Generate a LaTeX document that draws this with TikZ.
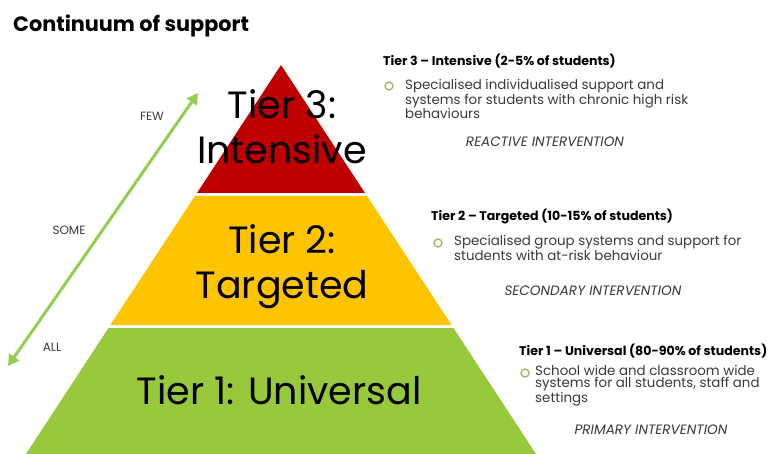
\documentclass[tikz,border=0pt]{standalone}
\usepackage{fontspec}
\setmainfont{Poppins}
\usetikzlibrary{arrows.meta}
\definecolor{tred}{HTML}{BE0000}
\definecolor{tyel}{HTML}{FFC400}
\definecolor{tgrn}{HTML}{98C83C}
\definecolor{arrg}{HTML}{92CF4E}
\definecolor{bodyg}{HTML}{3A3A3A}
\definecolor{bulg}{HTML}{9DB86A}
\tikzset{
  band/.style={draw=none},
  tierlbl/.style={inner sep=0pt, text=black, font=\fontsize{38}{38}\selectfont, align=center},
  side/.style={inner sep=0pt, text=bodyg, font=\fontsize{12}{12}\selectfont},
  head/.style={inner sep=0pt, anchor=west, text=black, font=\bfseries\fontsize{12.6}{13}\selectfont},
  body/.style={inner sep=0pt, anchor=north west, text=bodyg, align=left, font=\fontsize{13.4}{12.6}\selectfont},
  interv/.style={inner sep=0pt, text=bodyg, font=\itshape\fontsize{13.6}{13}\selectfont},
  bul/.style={circle, draw=bulg, line width=1.4pt, minimum size=8pt, inner sep=0pt}
}
\begin{document}
\begin{tikzpicture}[x=1pt,y=-1pt]
\useasboundingbox (0,0) rectangle (773,454);
\fill[white] (0,0) rectangle (773,454);
\begin{scope}
\clip (0,0) rectangle (773,454);
% pyramid bands
\fill[tred] (281,65) -- (365,193) -- (197,193) -- cycle;
\fill[tyel] (367,196) -- (451.6,325) -- (110.4,325) -- (195,196) -- cycle;
\fill[tgrn] (453.5,328) -- (536,454) -- (26,454) -- (108.5,328) -- cycle;
\end{scope}
% title
\node[inner sep=0pt, anchor=west, font=\bfseries\fontsize{20.8}{22}\selectfont] (title) at (13,26) {Continuum of support};
% arrow
\coordinate (lo) at (8,366);
\coordinate (hi) at (198,93);
\draw[arrg, line width=3pt, {Triangle[length=11pt,width=12pt]}-{Triangle[length=11pt,width=12pt]}] (lo) -- (hi);
\node[side] (few) at (152,116) {FEW};
\node[side] (some) at (69,230) {SOME};
\node[side] (all) at (52,347) {ALL};
% tier labels
\node[tierlbl] (t3) at (282,127) {Tier 3:\\[7pt]Intensive};
\node[tierlbl] (t2) at (282,267) {Tier 2:\\[7pt]Targeted};
\node[tierlbl] (t1) at (279,390) {Tier 1: Universal};
% tier 3 text
\node[head] (h3) at (383,61) {Tier 3 -- Intensive (2-5\% of students)};
\node[bul] (b3) at (389,86) {};
\node[body] (d3) at (405,79) {Specialised individualised support and\\systems for students with chronic high risk\\behaviours};
\node[interv] (i3) at (545,142) {REACTIVE INTERVENTION};
% tier 2 text
\node[head] (h2) at (431,216) {Tier 2 -- Targeted (10-15\% of students)};
\node[bul] (b2) at (438,243) {};
\node[body] (d2) at (454,235) {Specialised group systems and support for\\students with at-risk behaviour};
\node[interv] (i2) at (593,291) {SECONDARY INTERVENTION};
% tier 1 text
\node[head] (h1) at (519,351) {Tier 1 -- Universal (80-90\% of students)};
\node[bul] (b1) at (525,373) {};
\node[body] (d1) at (535,365) {School wide and classroom wide\\systems for all students, staff and\\settings};
\node[interv] (i1) at (651,430) {PRIMARY INTERVENTION};
\end{tikzpicture}
\end{document}
